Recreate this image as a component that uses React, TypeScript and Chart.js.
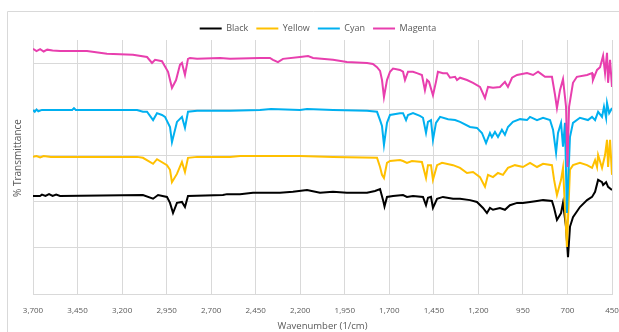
import React, { useEffect, useRef } from "react";
import { Chart, registerables } from "chart.js";

Chart.register(...registerables);

const seriesNames = ["Black", "Yellow", "Cyan", "Magenta"];
const seriesColors = ["#000000", "#FFC000", "#00B0F0", "#E83FAE"];

const xTitle = "Wavenumber (1/cm)";
const yTitle = "% Transmittance";
const xMin = 450;
const xMax = 3700;
const xStep = 250;

const blackWn = [3700,3661,3650,3630,3610,3590,3570,3548,3083,3026,2998,2948,2931,2914,2892,2864,2847,2830,2634,2611,2538,2465,2314,2241,2162,2089,2016,1938,1825,1780,1752,1735,1727,1713,1679,1623,1601,1567,1511,1494,1483,1466,1455,1432,1399,1342,1303,1247,1208,1174,1152,1135,1118,1079,1051,1023,983,950,910,871,837,787,775,759,736,725,708,697,686,669,630,590,562,545,528,506,500,483,472,450];
const blackT = [21.3,21.3,21.6,21.3,21.7,21.3,21.6,21.3,21.5,20.7,21.5,21.1,19.8,17.6,19.8,20.0,18.9,21.3,21.5,21.7,21.7,22.0,22.0,22.2,22.6,22.0,22.2,22.0,22.0,22.4,22.8,20.4,19.0,21.1,21.3,21.5,21.1,21.3,21.1,19.3,20.9,21.1,18.7,20.7,21.1,20.7,20.7,20.4,20.0,18.7,17.6,18.7,18.3,18.7,18.3,19.3,19.8,19.8,20.0,20.2,20.4,20.2,18.7,16.1,17.6,19.8,14.6,8.0,14.6,16.7,18.9,20.4,21.1,22.2,24.8,24.3,23.7,24.3,23.3,22.6];

const yellowWn = [3700,3680,3660,3640,3600,3116,3083,3026,3004,2948,2931,2920,2892,2864,2847,2830,2779,2594,2538,2201,2016,1769,1752,1741,1730,1713,1696,1640,1623,1601,1573,1517,1494,1483,1466,1455,1432,1404,1342,1303,1264,1230,1191,1163,1146,1118,1090,1062,1034,995,950,910,871,837,787,775,759,736,725,703,686,669,630,590,562,545,534,528,506,489,478,472,461,450];
const yellowT = [29.8,30.0,29.7,30.0,29.8,29.8,29.6,28.3,29.3,28.0,27.0,24.3,26.1,28.7,26.5,29.6,29.8,29.8,30.0,30.0,29.8,29.6,27.6,25.9,25.2,28.5,28.9,29.1,28.9,28.5,28.9,28.7,25.2,28.0,28.0,24.8,28.0,28.5,28.0,27.4,26.3,26.5,25.4,23.3,25.9,25.4,26.3,25.9,27.4,28.0,27.6,28.5,27.6,28.3,28.0,24.8,21.5,24.8,27.4,10.2,27.0,28.0,28.5,28.0,27.4,29.1,27.6,30.2,27.4,30.2,33.5,27.6,33.5,25.9];

const cyanWn = [3700,3690,3680,3670,3650,3600,3480,3470,3460,3116,3083,3060,3026,3004,2976,2959,2931,2920,2892,2864,2847,2830,2779,2594,2426,2364,2201,2162,2016,1825,1769,1752,1741,1730,1713,1696,1640,1623,1606,1595,1567,1528,1511,1494,1483,1466,1455,1438,1415,1370,1331,1303,1247,1208,1180,1157,1135,1124,1107,1090,1068,1051,1034,1006,966,927,910,871,837,798,781,764,753,736,725,714,703,686,669,630,585,562,545,528,506,495,483,478,466,450];
const cyanT = [40.0,39.6,40.1,39.7,40.0,40.0,40.0,40.4,40.0,40.0,39.6,39.6,37.8,39.3,38.9,38.5,36.3,33.0,37.4,38.5,36.1,39.6,39.8,39.8,40.0,40.2,40.0,40.2,40.0,39.8,39.6,37.8,36.5,32.4,37.2,38.9,39.3,39.3,37.8,38.9,39.3,38.7,38.3,35.0,37.4,37.8,33.5,37.2,38.5,38.0,37.8,37.4,36.3,36.1,35.0,32.8,35.0,34.1,35.2,34.1,35.7,34.6,36.3,37.4,38.0,37.8,38.5,37.8,38.3,37.8,35.7,30.7,35.0,37.2,32.0,37.2,17.6,34.1,37.2,38.3,37.8,38.5,37.8,39.6,38.5,40.7,38.3,41.5,39.3,40.4];

const magentaWn = [3700,3680,3660,3640,3620,3590,3548,3397,3285,3139,3060,3032,3015,2976,2942,2920,2897,2875,2864,2847,2830,2819,2779,2650,2594,2426,2370,2353,2325,2297,2201,2156,2128,2016,1938,1825,1792,1769,1752,1741,1730,1713,1696,1679,1640,1623,1612,1595,1567,1545,1517,1500,1488,1477,1455,1438,1427,1399,1376,1359,1331,1320,1303,1264,1230,1191,1163,1146,1118,1079,1051,1034,1011,983,927,893,865,854,826,787,770,759,742,725,708,700,691,669,647,590,562,557,534,517,500,489,478,472,461,450];
const magentaT = [53.3,52.8,53.2,52.7,53.1,52.9,52.8,52.8,52.2,52.0,51.5,50.2,50.9,50.6,48.3,44.8,46.5,49.8,50.2,47.6,51.1,51.3,51.1,51.3,51.1,51.3,51.3,50.9,50.4,51.1,51.5,51.7,51.3,50.9,50.4,50.2,50.0,49.3,48.5,46.5,42.8,46.5,48.3,49.0,48.7,48.3,46.5,48.3,48.3,48.0,47.6,44.3,46.5,46.1,43.2,46.1,48.3,48.0,48.0,47.0,47.2,46.5,47.0,46.5,45.9,45.0,42.6,45.0,44.8,45.0,46.1,45.0,47.0,47.6,48.0,47.6,48.3,48.0,47.2,47.2,43.3,40.4,44.3,46.7,40.7,27.6,40.7,45.9,47.2,47.6,48.0,46.5,48.7,49.3,51.8,48.0,52.4,45.9,50.9,45.0];

const seriesWn = [blackWn, yellowWn, cyanWn, magentaWn];
const seriesT = [blackT, yellowT, cyanT, magentaT];

const textColor = "#595959";
const gridColor = "#d9d9d9";
const fontFamily = "'Open Sans', 'Liberation Sans', sans-serif";

const framePlugin = {
  id: "frame",
  afterLayout(chart: any) {
    if (chart.legend) {
      chart.legend.top += 3;
      chart.legend.bottom += 3;
      chart.legend.left += 12;
      chart.legend.right += 12;
    }
    const ys = chart.scales.y;
    if (ys && !ys.__shifted) {
      ys.__shifted = true;
      const orig = ys.drawTitle.bind(ys);
      ys.drawTitle = function (...args: any[]) {
        const ctx = chart.ctx;
        ctx.save();
        ctx.translate(0, -9);
        orig(...args);
        ctx.restore();
      };
    }
  },
  beforeDraw(chart: any) {
    const ctx = chart.ctx;
    ctx.save();
    ctx.strokeStyle = gridColor;
    ctx.lineWidth = 1;
    ctx.beginPath();
    ctx.moveTo(7.5, chart.height);
    ctx.lineTo(7.5, 11.5);
    ctx.lineTo(chart.width, 11.5);
    ctx.stroke();
    ctx.restore();
  },
};

export default function App() {
  const canvasRef = useRef<HTMLCanvasElement | null>(null);

  useEffect(() => {
    document.body.style.margin = "0";
    const canvas = canvasRef.current;
    if (!canvas) return;
    const datasets = seriesNames.map((name, i) => ({
      label: name,
      data: seriesWn[i].map((w, j) => ({ x: w, y: seriesT[i][j] })),
      borderColor: seriesColors[i],
      backgroundColor: seriesColors[i],
      borderWidth: 2,
      pointRadius: 0,
      tension: 0,
      fill: false,
      order: seriesNames.length - i,
    }));

    const chart = new Chart(canvas, {
      type: "line",
      data: { datasets },
      plugins: [framePlugin],
      options: {
        animation: false,
        responsive: false,
        maintainAspectRatio: false,
        layout: { padding: { top: 13, right: 7, left: 0, bottom: 0 } },
        plugins: {
          tooltip: { enabled: false },
          legend: {
            position: "top",
            align: "center",
            labels: {
              boxWidth: 22,
              boxHeight: 2,
              padding: 8,
              color: textColor,
              font: { family: fontFamily, size: 9 },
              generateLabels: (ch: any) =>
                ch.data.datasets.map((ds: any, i: number) => ({
                  text: ds.label,
                  fillStyle: ds.borderColor,
                  strokeStyle: ds.borderColor,
                  lineWidth: 0,
                  hidden: false,
                  datasetIndex: i,
                  fontColor: textColor,
                })),
            },
          },
        },
        scales: {
          x: {
            type: "linear",
            reverse: true,
            min: xMin,
            max: xMax,
            ticks: {
              stepSize: xStep,
              autoSkip: false,
              maxRotation: 0,
              padding: 12,
              color: textColor,
              font: { family: fontFamily, size: 8 },
            },
            grid: { color: gridColor, drawTicks: false, lineWidth: 1 },
            border: { color: gridColor },
            title: {
              display: true,
              text: xTitle,
              color: textColor,
              font: { family: fontFamily, size: 9.5 },
              padding: { top: 0, bottom: 0 },
            },
            afterFit: (s: any) => {
              s.height = 38;
              s.paddingLeft = 0;
              s.paddingRight = 0;
            },
          },
          y: {
            type: "linear",
            min: 0,
            max: 55.2,
            ticks: { display: false, stepSize: 10, includeBounds: false },
            grid: { color: gridColor, drawTicks: false, lineWidth: 1 },
            border: { color: gridColor },
            title: {
              display: true,
              text: yTitle,
              color: textColor,
              font: { family: fontFamily, size: 10 },
              padding: { top: 12, bottom: 0 },
            },
            afterFit: (s: any) => {
              s.width = 33;
              s.paddingTop = 0;
              s.paddingBottom = 0;
            },
          },
        },
      },
    } as any);
    return () => chart.destroy();
  }, []);

  return (
    <div style={{ position: "absolute", left: 0, top: 0, width: 619, height: 332, background: "#fff" }}>
      <canvas ref={canvasRef} width={619} height={332} style={{ width: 619, height: 332, display: "block" }} />
    </div>
  );
}
